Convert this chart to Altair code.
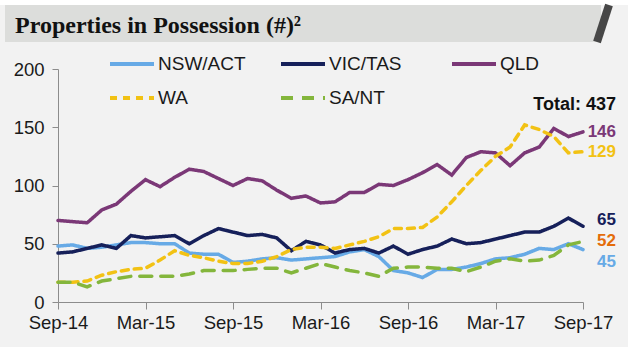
import altair as alt
import pandas as pd

months = ["Sep-14","Oct-14","Nov-14","Dec-14","Jan-15","Feb-15","Mar-15","Apr-15","May-15",
          "Jun-15","Jul-15","Aug-15","Sep-15","Oct-15","Nov-15","Dec-15","Jan-16","Feb-16",
          "Mar-16","Apr-16","May-16","Jun-16","Jul-16","Aug-16","Sep-16","Oct-16","Nov-16",
          "Dec-16","Jan-17","Feb-17","Mar-17","Apr-17","May-17","Jun-17","Jul-17","Aug-17","Sep-17"]
tick_labels = ["Sep-14","Mar-15","Sep-15","Mar-16","Sep-16","Mar-17","Sep-17"]

series = ["NSW/ACT","VIC/TAS","QLD","WA","SA/NT"]
nsw = [48,49,46,47,49,51,51,50,50,42,41,41,34,35,37,38,36,37,38,39,43,45,39,27,25,21,28,28,30,33,37,38,41,46,45,50,45]
vic = [42,43,46,49,46,57,55,56,57,50,57,63,60,57,58,55,44,52,49,42,45,46,42,48,41,45,48,54,50,51,54,57,60,60,65,72,65]
qld = [70,69,68,79,84,95,105,99,107,114,112,106,100,106,104,96,89,91,85,86,94,94,101,100,105,111,118,109,124,129,128,117,128,133,149,142,146]
wa  = [17,17,18,23,26,28,29,36,44,40,38,35,33,33,35,39,45,47,47,46,49,52,56,63,63,64,73,86,100,113,125,133,152,148,142,128,129]
sant = [17,17,13,18,20,22,22,22,22,24,27,27,27,28,29,29,25,29,33,30,27,25,22,29,30,30,29,29,26,30,35,37,35,36,40,49,52]

colors = ["#67AAE6", "#16205A", "#7B3877", "#F2C214", "#84B63C"]
label_colors = ["#67AAE6", "#16205A", "#7B3877", "#F2C214", "#E46C0A"]
dashes = [[1, 0], [1, 0], [1, 0], [7, 6], [12, 9]]

values = {"NSW/ACT": nsw, "VIC/TAS": vic, "QLD": qld, "WA": wa, "SA/NT": sant}
rows = []
for s in series:
    for m, v in zip(months, values[s]):
        rows.append({"month": m, "series": s, "value": v})
df = pd.DataFrame(rows)

FONT = "Liberation Sans"

x_enc = alt.X("month:O", sort=months,
              scale=alt.Scale(type="point", padding=0),
              axis=alt.Axis(values=tick_labels, labelAngle=0, title=None, grid=False,
                            domainColor="#8C8C8C", tickColor="#8C8C8C", tickSize=7,
                            labelFont=FONT, labelFontSize=18.5, labelColor="#1A1A1A",
                            labelPadding=4))
y_enc = alt.Y("value:Q", scale=alt.Scale(domain=[0, 200], nice=False, zero=True),
              axis=alt.Axis(values=[0, 50, 100, 150, 200], title=None, grid=False,
                            domainColor="#8C8C8C", tickColor="#8C8C8C", tickSize=6,
                            labelFont=FONT, labelFontSize=18.5, labelColor="#1A1A1A",
                            labelPadding=8))

legend = alt.Legend(orient="none", legendX=50, legendY=-29, columns=3, direction="horizontal",
                    title=None,
                    symbolType="stroke", symbolSize=1936, symbolStrokeWidth=4,
                    labelFont=FONT, labelFontSize=19, labelColor="#1A1A1A",
                    labelOffset=2, columnPadding=27, rowPadding=-14, gridAlign="all")

lines = alt.Chart(df).mark_line(strokeWidth=3.5, strokeCap="round").encode(
    x=x_enc, y=y_enc,
    color=alt.Color("series:N", sort=series,
                    scale=alt.Scale(domain=series, range=colors), legend=legend),
    strokeDash=alt.StrokeDash("series:N", sort=series,
                              scale=alt.Scale(domain=series, range=dashes), legend=legend),
)

one = pd.DataFrame({"a": [0]})
white_top = alt.Chart(one).mark_rect(color="white").encode(
    x=alt.value(-58), x2=alt.value(570), y=alt.value(-69), y2=alt.value(-64))
bar = alt.Chart(one).mark_rect(color="#DCDDDB").encode(
    x=alt.value(-53), x2=alt.value(543), y=alt.value(-64), y2=alt.value(-27))
stripe = alt.Chart(one).mark_rule(color="#474747", strokeWidth=8).encode(
    x=alt.value(551), x2=alt.value(539), y=alt.value(-64), y2=alt.value(-27))
title = alt.Chart(one).mark_text(text="Properties in Possession (#)²", font="Liberation Serif",
                                 fontSize=24, fontWeight="bold", align="left",
                                 baseline="alphabetic", color="#111111").encode(
    x=alt.value(-43), y=alt.value(-36))

last = df[df["month"] == months[-1]]
total = int(last["value"].sum())
total_text = alt.Chart(one).mark_text(text=f"Total: {total}", font=FONT, fontSize=18,
                                      fontWeight="bold", align="right", baseline="middle",
                                      color="#111111").encode(
    x=alt.value(558), y=alt.value(36))

label_dy = {"NSW/ACT": 12, "VIC/TAS": -6, "QLD": 0, "WA": 0, "SA/NT": 0}
labels = []
for s, c in zip(series, label_colors):
    labels.append(
        alt.Chart(last[last["series"] == s]).mark_text(
            font=FONT, fontSize=17, fontWeight="bold", align="right", baseline="middle",
            dx=33, dy=label_dy[s], color=c).encode(
            x=alt.X("month:O", sort=months, scale=alt.Scale(type="point", padding=0)),
            y=alt.Y("value:Q", scale=alt.Scale(domain=[0, 200])),
            text="value:Q")
    )

chart = alt.layer(white_top, bar, stripe, title, lines, total_text, *labels).properties(
    width=525, height=233,
    autosize=alt.AutoSizeParams(type="none"),
    padding={"left": 58, "top": 69, "right": 45, "bottom": 45},
    background="#F2F2F2",
).configure_view(stroke=None)

chart.save("out.html", embed_options={"renderer": "svg", "actions": False})
